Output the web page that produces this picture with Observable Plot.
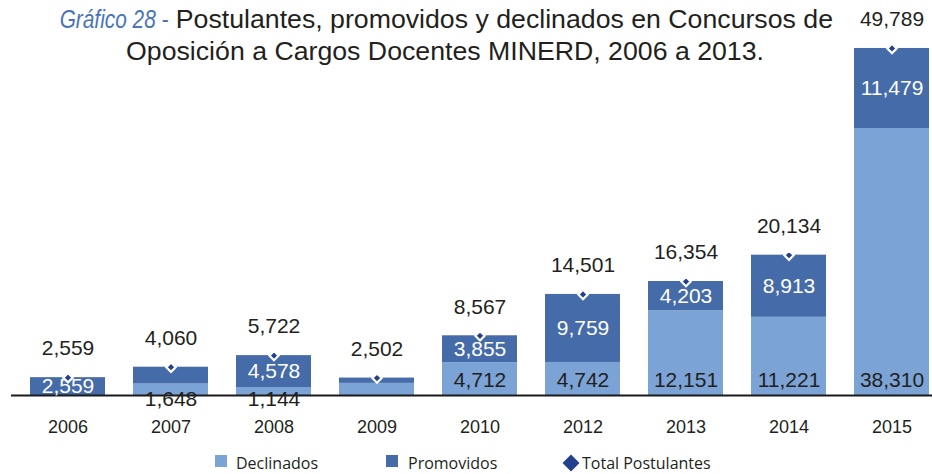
<!DOCTYPE html>
<html>
<head>
<meta charset="utf-8">
<script src="https://cdn.jsdelivr.net/npm/d3@7"></script>
<script src="https://cdn.jsdelivr.net/npm/@observablehq/plot@0.6"></script>
<style>
  html, body { margin: 0; padding: 0; background: #fff; overflow: hidden; }
  #wrap { position: relative; width: 932px; height: 474px; overflow: hidden; }
  #chart { position: absolute; left: 0; top: 0; }
  #title { position: absolute; left: 0; top: 3px; width: 890px; text-align: center;
    font-family: "Liberation Sans", Arial, sans-serif; font-size: 26.7px; line-height: 32px; color: #231f20; }
  #title .lead { display: inline-block; transform: scaleX(0.78); transform-origin: right center; margin-left: -28px;
    font-family: "Liberation Sans", Arial, sans-serif; font-style: italic; color: #4a74ba; }
  .leg { position: absolute; font-family: "Open Sans", sans-serif; font-size: 16px; color: #231f20; line-height: 20px; white-space: nowrap; }
  .sw { position: absolute; width: 12px; height: 12px; }
</style>
</head>
<body>
<div id="wrap">
  <div id="chart"></div>
  <div id="title"><span class="lead">Gráfico 28 -</span> Postulantes, promovidos y declinados en Concursos de<br>Oposición a Cargos Docentes MINERD, 2006 a 2013.</div>
  <div id="legend"></div>
</div>
<script>
const years = ["2006", "2007", "2008", "2009", "2010", "2012", "2013", "2014", "2015"];
const declinados = [0, 1648, 1144, 1740, 4712, 4742, 12151, 11221, 38310];
const promovidos = [2559, 2412, 4578, 762, 3855, 9759, 4203, 8913, 11479];
const totales = [2559, 4060, 5722, 2502, 8567, 14501, 16354, 20134, 49789];
const hiddenDeclLabels = ["2006", "2009"];
const hiddenPromLabels = ["2007", "2009"];
const seriesNames = ["Declinados", "Promovidos", "Total Postulantes"];

const colors = { Declinados: "#7ba3d6", Promovidos: "#456ba9", Total: "#243f8c" };

const rows = years.map((y, i) => ({ year: y, decl: declinados[i], prom: promovidos[i], total: totales[i] }));
const stacked = [];
rows.forEach(r => {
  stacked.push({ year: r.year, serie: "Declinados", value: r.decl });
  stacked.push({ year: r.year, serie: "Promovidos", value: r.prom });
});
const fmt = d3.format(",");
const declLab = rows.filter(r => !hiddenDeclLabels.includes(r.year));
const promLab = rows.filter(r => !hiddenPromLabels.includes(r.year));

const chart = Plot.plot({
  width: 932,
  height: 474,
  marginLeft: 11,
  marginRight: 0,
  marginTop: 0,
  marginBottom: 79,
  x: { type: "band", domain: years, range: [13, 945], paddingInner: 0.275, paddingOuter: 0.1375, label: null },
  y: { domain: [0, 50000], range: [395, 46.5], axis: null },
  color: { domain: ["Declinados", "Promovidos"], range: [colors.Declinados, colors.Promovidos] },
  style: { fontFamily: "'Liberation Sans', Arial, sans-serif", color: "#231f20", background: "transparent" },
  marks: [
    Plot.barY(stacked, Plot.stackY({ x: "year", y: "value", fill: "serie", order: seriesNames })),
    Plot.ruleY([0], { stroke: "#1a1a1a", strokeWidth: 2 }),
    Plot.axisX({ tickSize: 0, tickPadding: 25, fontSize: 18, fill: "#231f20", label: null }),
    Plot.text(declLab, { x: "year", y: 0, text: d => fmt(d.decl), fontSize: 21, fill: "#231f20",
      filter: d => d.decl >= 2000, dy: -15 }),
    Plot.text(declLab, { x: "year", y: 0, text: d => fmt(d.decl), fontSize: 21, fill: "#231f20",
      filter: d => d.decl < 2000, dy: 4 }),
    Plot.text(promLab, { x: "year", y: d => d.decl + d.prom / 2, text: d => fmt(d.prom), fontSize: 21, fill: "#ffffff" }),
    Plot.dot(rows, { x: "year", y: "total", symbol: "diamond2", r: 4.2, fill: colors.Total, stroke: "#ffffff", strokeWidth: 2.2 }),
    Plot.text(rows, { x: "year", y: "total", text: d => fmt(d.total), fontSize: 21, fill: "#231f20", dy: -29 })
  ]
});
document.getElementById("chart").appendChild(chart);

// legend
const legend = document.getElementById("legend");
const items = [
  { name: seriesNames[0], type: "sq", color: colors.Declinados, mx: 215, tx: 236 },
  { name: seriesNames[1], type: "sq", color: colors.Promovidos, mx: 386, tx: 408 },
  { name: seriesNames[2], type: "dm", color: colors.Total, mx: 562, tx: 582 }
];
items.forEach(it => {
  const s = document.createElement("div");
  s.className = "sw";
  s.style.background = it.color;
  if (it.type === "sq") {
    s.style.left = it.mx + "px"; s.style.top = "455px";
  } else {
    s.style.left = (it.mx + 2.5) + "px"; s.style.top = "456.5px";
    s.style.transform = "rotate(45deg)";
  }
  legend.appendChild(s);
  const t = document.createElement("div");
  t.className = "leg";
  t.style.left = it.tx + "px"; t.style.top = "453px";
  t.textContent = it.name;
  legend.appendChild(t);
});
</script>
</body>
</html>
